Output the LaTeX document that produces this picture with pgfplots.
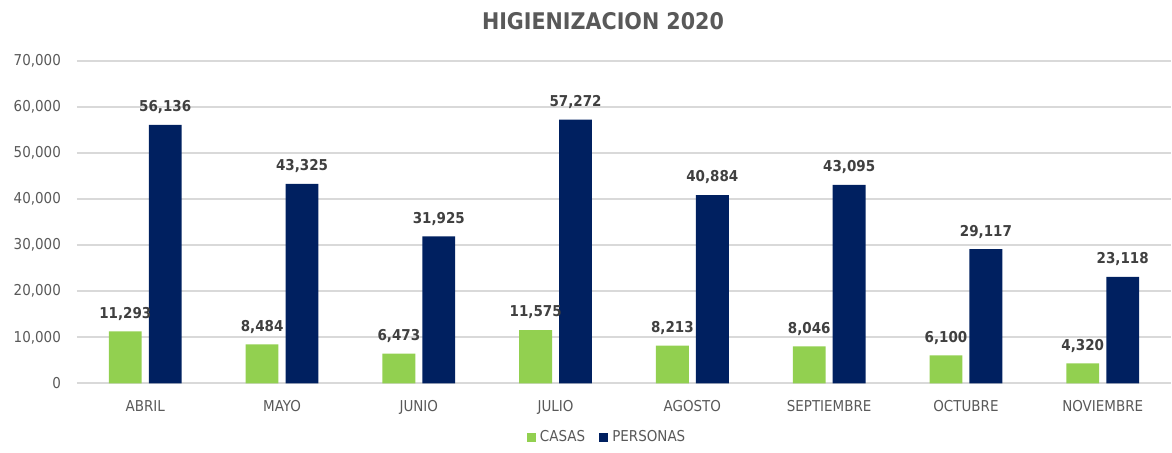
\documentclass[border=0pt]{standalone}
\usepackage{pgfplots}
\pgfplotsset{compat=1.18}
\usepackage{fontspec}
\setmainfont{DejaVu Sans Condensed}
\usetikzlibrary{calc}

\definecolor{casas}{HTML}{92D050}
\definecolor{personas}{HTML}{002060}
\definecolor{gridgray}{HTML}{D9D9D9}
\definecolor{txtgray}{HTML}{595959}
\definecolor{lblgray}{HTML}{404040}

\begin{document}
\begin{tikzpicture}
\begin{axis}[
  scale only axis, width=548pt, height=161.5pt,
  xmin=-0.5, xmax=7.5, ymin=0, ymax=70000,
  xtick={0,...,7},
  xticklabels={ABRIL,MAYO,JUNIO,JULIO,AGOSTO,SEPTIEMBRE,OCTUBRE,NOVIEMBRE},
  ytick={0,10000,...,70000},
  scaled y ticks=false,
  ymajorgrids, grid style={draw=gridgray, line width=0.9pt},
  axis line style={draw=none}, major tick length=0,
  tick label style={font=\fontsize{7.5}{9}\selectfont, text=txtgray},
  yticklabel style={xshift=-4.5pt},
  xticklabel style={yshift=-5pt},
  /pgf/number format/fixed, /pgf/number format/precision=0,
  /pgf/number format/1000 sep={,}, /pgf/number format/assume math mode=true,
  title={HIGIENIZACION 2020},
  title style={font=\bfseries\fontsize{11.5}{13}\selectfont, text=txtgray,
    at={(0.5,1)}, anchor=base, yshift=9.5pt, xshift=-10.5pt},
  ybar, bar width=0.24,
  nodes near coords,
  every node near coord/.append style={font=\bfseries\fontsize{7.5}{9}\selectfont, text=lblgray, yshift=2pt},
  legend style={at={(0.5,0)}, anchor=center, yshift=-27pt, xshift=-8pt, draw=none,
    font=\fontsize{7.5}{9}\selectfont, text=txtgray, legend columns=2,
    /tikz/every even column/.append style={column sep=5pt}},
  legend image code/.code={\fill[#1] (0pt,-2.3pt) rectangle (4.6pt,2.3pt);},
]
\addplot[fill=casas, draw=none, bar shift=-0.146] coordinates
  {(0,11293) (1,8484) (2,6473) (3,11575) (4,8213) (5,8046) (6,6100) (7,4320)};
\addplot[fill=personas, draw=none, bar shift=0.146] coordinates
  {(0,56136) (1,43325) (2,31925) (3,57272) (4,40884) (5,43095) (6,29117) (7,23118)};
\legend{CASAS, PERSONAS}
\coordinate (sw) at (rel axis cs:0,0);
\coordinate (ne) at (rel axis cs:1,1);
\end{axis}
\path ($(sw)+(-38.5pt,-32.5pt)$) rectangle ($(ne)+(0pt,30.5pt)$);
\end{tikzpicture}
\end{document}
